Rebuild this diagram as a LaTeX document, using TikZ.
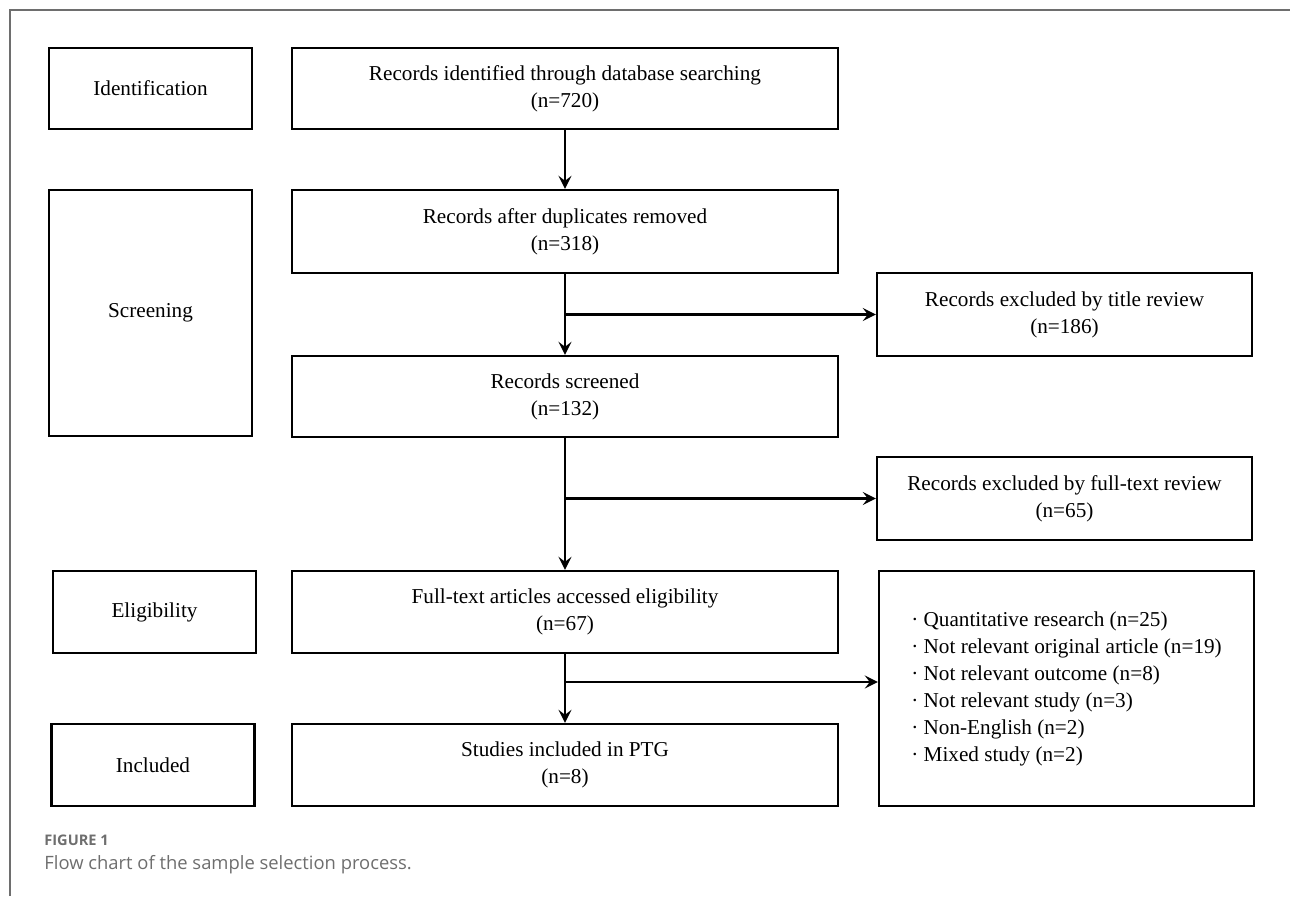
\documentclass[tikz,border=0pt]{standalone}
\usepackage{fontspec}
\setmainfont{Liberation Serif}
\newfontfamily\capfont{Open Sans}
\usetikzlibrary{arrows.meta}
\definecolor{capgray}{RGB}{110,110,110}
\begin{document}
\begin{tikzpicture}[x=0.5pt,y=-0.5pt,
  boxstyle/.style={draw,line width=1.2pt,align=center,inner sep=0pt,font=\fontsize{10.6}{13.5}\selectfont},
  widestyle/.style={boxstyle,minimum width=273pt,minimum height=41pt},
  sidestyle/.style={boxstyle,minimum width=187.5pt,minimum height=41.5pt},
  stagestyle/.style={boxstyle,minimum width=101.5pt},
  arrowstyle/.style={line width=1.2pt,-{Stealth[length=6.5pt,width=6.5pt,inset=2.5pt]}}]
\useasboundingbox (0,0) rectangle (1290,896);
\draw[capgray,line width=0.6pt] (10,896) -- (10,10) -- (1290,10);
\node[stagestyle,minimum height=40.5pt] (ident) at (150.5,88.5) {Identification};
\node[stagestyle,minimum height=123pt] (screen) at (150.5,313) {Screening};
\node[stagestyle,minimum height=41pt] (elig) at (154.5,612) {Eligibility};
\node[stagestyle,minimum height=41pt] (incl) at (153,765) {Included};
\node[widestyle,minimum height=40.5pt] (found) at (565,88.5) {Records identified through database searching\\(n=720)};
\node[widestyle,minimum height=41.5pt] (nodup) at (565,231.5) {Records after duplicates removed\\(n=318)};
\node[widestyle,minimum height=40.5pt] (screened) at (565,396.5) {Records screened\\(n=132)};
\node[widestyle] (fulltext) at (565,612) {Full-text articles accessed eligibility\\(n=67)};
\node[widestyle] (studies) at (565,765) {Studies included in PTG\\(n=8)};
\node[sidestyle] (extitle) at (1064.5,314.5) {Records excluded by title review\\(n=186)};
\node[sidestyle] (exfull) at (1064.5,498.5) {Records excluded by full-text review\\(n=65)};
\node[sidestyle,minimum height=117.5pt,align=left] (reasons) at (1066.5,688.5) {%
  \textperiodcentered\ Quantitative research (n=25)\\
  \textperiodcentered\ Not relevant original article (n=19)\\
  \textperiodcentered\ Not relevant outcome (n=8)\\
  \textperiodcentered\ Not relevant study (n=3)\\
  \textperiodcentered\ Non-English (n=2)\\
  \textperiodcentered\ Mixed study (n=2)};
\coordinate (split3) at (565,682);
\draw[arrowstyle] (found) -- (nodup);
\draw[arrowstyle] (nodup) -- (screened);
\draw[arrowstyle] (nodup.south |- extitle.west) -- (extitle.west);
\draw[arrowstyle] (screened) -- (fulltext);
\draw[arrowstyle] (screened.south |- exfull.west) -- (exfull.west);
\draw[arrowstyle] (fulltext) -- (studies);
\draw[arrowstyle] (split3) -- (split3 -| reasons.west);
\node[anchor=base west,inner sep=0pt,text=capgray,font=\capfont\bfseries\fontsize{7.3}{8}\selectfont] (figno) at (44,845) {FIGURE 1};
\node[anchor=base west,inner sep=0pt,text=capgray,font=\capfont\fontsize{9.2}{10}\selectfont] (figcap) at (44,869) {Flow chart of the sample selection process.};
\end{tikzpicture}
\end{document}
